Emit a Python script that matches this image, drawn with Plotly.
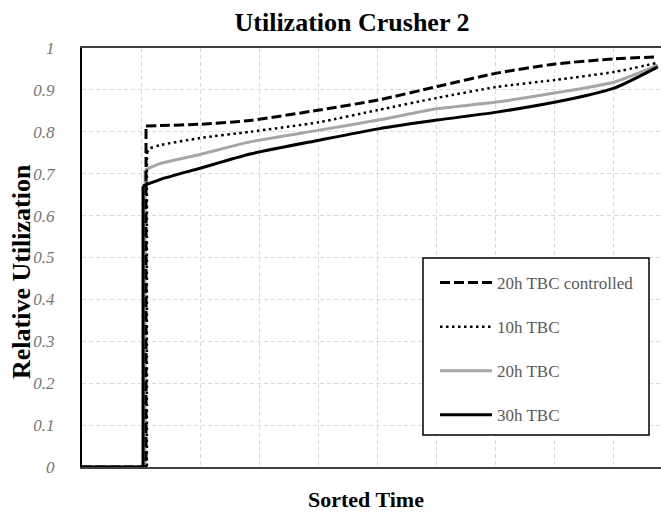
import plotly.graph_objects as go

# Sorted time (percent of horizon) and relative utilization per scenario.
# The first three points of each series are the idle period and the step up.
t_controlled = [0, 10.85, 10.85, 13.2, 20, 28.5, 40.2, 50.2, 60.2, 70.3, 80.3, 90.3, 97.6]
u_controlled = [0, 0, 0.814, 0.815, 0.818, 0.827, 0.852, 0.876, 0.908, 0.940, 0.962, 0.974, 0.979]

t_10h = [0, 11.0, 11.0, 11.5, 13.2, 20, 28.5, 40.2, 50.2, 60.2, 70.3, 80.3, 90.3, 97.6]
u_10h = [0, 0, 0.750, 0.760, 0.768, 0.785, 0.800, 0.823, 0.852, 0.881, 0.907, 0.924, 0.943, 0.965]

t_20h = [0, 10.7, 10.7, 13.2, 20, 28.5, 40.2, 50.2, 60.2, 70.3, 80.3, 90.3, 97.6]
u_20h = [0, 0, 0.709, 0.724, 0.746, 0.776, 0.804, 0.828, 0.855, 0.871, 0.893, 0.919, 0.959]

t_30h = [0, 10.35, 10.35, 13.2, 20, 28.5, 40.2, 50.2, 60.2, 70.3, 80.3, 90.3, 97.6]
u_30h = [0, 0, 0.671, 0.686, 0.713, 0.747, 0.780, 0.807, 0.828, 0.847, 0.871, 0.905, 0.955]

y_ticks = [0, 0.1, 0.2, 0.3, 0.4, 0.5, 0.6, 0.7, 0.8, 0.9, 1]
y_tick_text = ["0", "0.1", "0.2", "0.3", "0.4", "0.5", "0.6", "0.7", "0.8", "0.9", "1"]

SERIF = "Liberation Serif"
TEXT_GRAY = "#595959"
TICK_GRAY = "#767676"
SMOOTH = 0.6

series = [
    # name, t, u, line style, legend rank
    ("20h TBC", t_20h, u_20h, dict(color="#A6A6A6", width=3), 3),
    ("30h TBC", t_30h, u_30h, dict(color="black", width=3), 4),
    ("20h TBC controlled", t_controlled, u_controlled,
     dict(color="black", width=3, dash="10px,4px"), 1),
    ("10h TBC", t_10h, u_10h, dict(color="black", width=2.5, dash="2.5px,3.5px"), 2),
]

fig = go.Figure()
for name, t, u, style, rank in series:
    # idle period and step: straight segments
    fig.add_trace(go.Scatter(x=t[:3], y=u[:3], mode="lines", name=name,
                             line=dict(style, shape="linear"),
                             legendgroup=name, legendrank=rank, showlegend=False))
    # sorted utilization curve: smoothed
    fig.add_trace(go.Scatter(x=t[2:], y=u[2:], mode="lines", name=name,
                             line=dict(style, shape="spline", smoothing=SMOOTH),
                             legendgroup=name, legendrank=rank, showlegend=True))

L, R, T, B = 82, 0, 48, 46
W, H = 661, 513
pw, ph = W - L - R, H - T - B


def px_x(p):
    return (p - L) / pw


def px_y(q):
    return (H - B - q) / ph


# legend frame
fig.add_shape(type="rect", xref="paper", yref="paper",
              x0=px_x(423), x1=px_x(649), y0=px_y(435), y1=px_y(258),
              line=dict(color="black", width=1.5), fillcolor="white", layer="above")

# axis titles
fig.add_annotation(text="<b>Relative Utilization</b>", textangle=-90,
                   xref="paper", yref="paper", x=px_x(21), y=px_y(272),
                   xanchor="center", yanchor="middle", showarrow=False,
                   font=dict(family=SERIF, size=26, color="black"))
fig.add_annotation(text="<b>Sorted Time</b>",
                   xref="paper", yref="paper", x=px_x(366), y=px_y(499),
                   xanchor="center", yanchor="middle", showarrow=False,
                   font=dict(family=SERIF, size=22, color="black"))

fig.update_layout(
    width=W, height=H,
    margin=dict(l=L, r=R, t=T, b=B),
    paper_bgcolor="white", plot_bgcolor="white",
    title=dict(text="<b>Utilization Crusher 2</b>", x=352 / W, xref="container",
               xanchor="center", y=1 - 22 / H, yanchor="middle",
               font=dict(family=SERIF, size=26, color="black")),
    legend=dict(x=px_x(435), y=px_y(265), xanchor="left", yanchor="top",
                bgcolor="rgba(0,0,0,0)", borderwidth=0,
                font=dict(family=SERIF, size=17, color=TEXT_GRAY),
                tracegroupgap=19, traceorder="grouped", itemwidth=52),
    xaxis=dict(range=[0, pw / 59 * 10], dtick=10, tick0=0, showticklabels=False,
               showgrid=True, gridcolor="#D9D9D9", griddash="4px,3px", gridwidth=1,
               zeroline=False, showline=True, linecolor="#404040", linewidth=1.5,
               mirror=True, ticks=""),
    yaxis=dict(range=[0, 1], tickvals=y_ticks, ticktext=y_tick_text,
               showgrid=True, gridcolor="#D9D9D9", griddash="4px,3px", gridwidth=1,
               zeroline=False, showline=True, linecolor="black", linewidth=2,
               ticks="", ticklabelstandoff=22,
               tickfont=dict(family=SERIF, size=17, color=TICK_GRAY, style="italic")),
)

fig.write_html("out.html")
